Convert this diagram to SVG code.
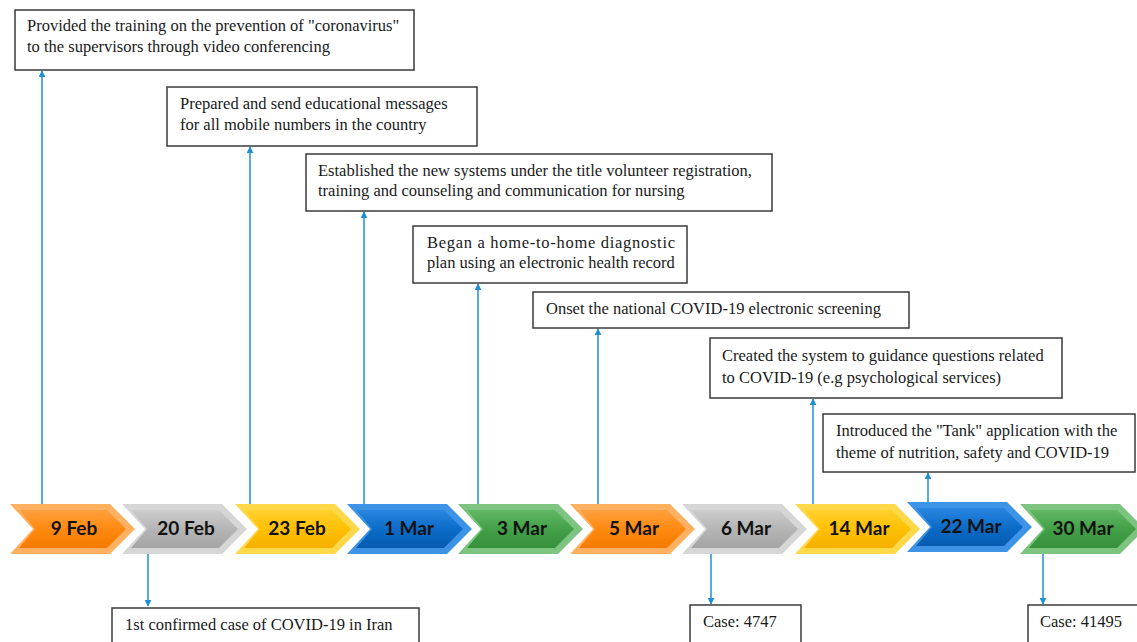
<svg xmlns="http://www.w3.org/2000/svg" width="1137" height="642" viewBox="0 0 1137 642">
<style>
.box{fill:#fff;stroke:#3a3a3a;stroke-width:1.5}
.t{font-family:"Liberation Serif","Times New Roman",serif;font-size:16.5px;fill:#1a1a1a}
.lbl{font-family:Lato,"Open Sans",sans-serif;font-weight:bold;font-size:19px;fill:#111;text-anchor:middle}
.con{stroke:#1f8fd6;stroke-width:1.5;fill:none}
</style>
<defs>
<marker id="ah" viewBox="0 0 10 10" refX="9" refY="5" markerWidth="7" markerHeight="7" orient="auto-start-reverse" markerUnits="userSpaceOnUse">
<path d="M0,0 L10,5 L0,10 z" fill="#1f8fd6"/>
</marker>
<linearGradient id="gO" x1="0" y1="0" x2="0" y2="1"><stop offset="0" stop-color="#ffa040"/><stop offset="0.5" stop-color="#ff8a10"/><stop offset="1" stop-color="#f57a00"/></linearGradient>
<linearGradient id="gG" x1="0" y1="0" x2="0" y2="1"><stop offset="0" stop-color="#cccccc"/><stop offset="0.5" stop-color="#b5b5b5"/><stop offset="1" stop-color="#a5a5a5"/></linearGradient>
<linearGradient id="gY" x1="0" y1="0" x2="0" y2="1"><stop offset="0" stop-color="#ffd030"/><stop offset="0.5" stop-color="#ffc000"/><stop offset="1" stop-color="#f5b000"/></linearGradient>
<linearGradient id="gB" x1="0" y1="0" x2="0" y2="1"><stop offset="0" stop-color="#2a86e0"/><stop offset="0.5" stop-color="#0b6cc9"/><stop offset="1" stop-color="#075cb0"/></linearGradient>
<linearGradient id="gN" x1="0" y1="0" x2="0" y2="1"><stop offset="0" stop-color="#62b865"/><stop offset="0.5" stop-color="#43a047"/><stop offset="1" stop-color="#36913a"/></linearGradient>
<path id="chev" d="M0,0 L100,0 L125,25 L100,50 L0,50 L23,25 z"/>
<path id="chevIn" d="M9,6 L97,6 L116,25 L97,44 L9,44 L25,25 z"/>
</defs>

<g id="connectors">
<line class="con" x1="42" y1="504" x2="42" y2="71" marker-end="url(#ah)"/>
<line class="con" x1="250" y1="504" x2="250" y2="147" marker-end="url(#ah)"/>
<line class="con" x1="364" y1="504" x2="364" y2="212" marker-end="url(#ah)"/>
<line class="con" x1="478" y1="504" x2="478" y2="284" marker-end="url(#ah)"/>
<line class="con" x1="598" y1="504" x2="598" y2="329" marker-end="url(#ah)"/>
<line class="con" x1="813" y1="504" x2="813" y2="399" marker-end="url(#ah)"/>
<line class="con" x1="928" y1="502" x2="928" y2="473" marker-end="url(#ah)"/>
<line class="con" x1="148" y1="554" x2="148" y2="606" marker-end="url(#ah)"/>
<line class="con" x1="711" y1="554" x2="711" y2="604" marker-end="url(#ah)"/>
<line class="con" x1="1043" y1="554" x2="1043" y2="604" marker-end="url(#ah)"/>
</g>

<g id="n-9feb" transform="translate(10,504)">
<use href="#chev" fill="#ffb060"/><use href="#chevIn" fill="url(#gO)"/>
<text class="lbl" x="64" y="31">9 Feb</text></g>
<g id="n-20feb" transform="translate(122,504)">
<use href="#chev" fill="#d6d6d6"/><use href="#chevIn" fill="url(#gG)"/>
<text class="lbl" x="64" y="31">20 Feb</text></g>
<g id="n-23feb" transform="translate(235,504)">
<use href="#chev" fill="#ffd84a"/><use href="#chevIn" fill="url(#gY)"/>
<text class="lbl" x="62" y="31">23 Feb</text></g>
<g id="n-1mar" transform="translate(347,504)">
<use href="#chev" fill="#3d94e6"/><use href="#chevIn" fill="url(#gB)"/>
<text class="lbl" x="62" y="31">1 Mar</text></g>
<g id="n-3mar" transform="translate(458,504)">
<use href="#chev" fill="#7cc47f"/><use href="#chevIn" fill="url(#gN)"/>
<text class="lbl" x="64" y="31">3 Mar</text></g>
<g id="n-5mar" transform="translate(570,504)">
<use href="#chev" fill="#ffb060"/><use href="#chevIn" fill="url(#gO)"/>
<text class="lbl" x="64" y="31">5 Mar</text></g>
<g id="n-6mar" transform="translate(682,504)">
<use href="#chev" fill="#d6d6d6"/><use href="#chevIn" fill="url(#gG)"/>
<text class="lbl" x="64" y="31">6 Mar</text></g>
<g id="n-14mar" transform="translate(795,504)">
<use href="#chev" fill="#ffd84a"/><use href="#chevIn" fill="url(#gY)"/>
<text class="lbl" x="64" y="31">14 Mar</text></g>
<g id="n-22mar" transform="translate(907,502)">
<use href="#chev" fill="#3d94e6"/><use href="#chevIn" fill="url(#gB)"/>
<text class="lbl" x="64" y="31">22 Mar</text></g>
<g id="n-30mar" transform="translate(1020,504)">
<use href="#chev" fill="#7cc47f"/><use href="#chevIn" fill="url(#gN)"/>
<text class="lbl" x="63" y="31">30 Mar</text></g>

<g id="b1"><rect class="box" x="15" y="10" width="399" height="60"/>
<text class="t" x="27" y="31">Provided the training on the prevention of "coronavirus"</text>
<text class="t" x="27" y="52">to the supervisors through video conferencing</text></g>
<g id="b2"><rect class="box" x="167" y="87" width="310" height="59"/>
<text class="t" x="180" y="109">Prepared and send educational messages</text>
<text class="t" x="180" y="130">for all mobile numbers in the country</text></g>
<g id="b3"><rect class="box" x="306" y="154" width="466" height="57"/>
<text class="t" x="318" y="176">Established the new systems under the title volunteer registration,</text>
<text class="t" x="318" y="196">training and counseling and communication for nursing</text></g>
<g id="b4"><rect class="box" x="413" y="226" width="274" height="57"/>
<text class="t" x="427" y="248" textLength="248" lengthAdjust="spacing">Began a home-to-home diagnostic</text>
<text class="t" x="427" y="268">plan using an electronic health record</text></g>
<g id="b5"><rect class="box" x="533" y="292" width="376" height="36"/>
<text class="t" x="546" y="314">Onset the national COVID-19 electronic screening</text></g>
<g id="b6"><rect class="box" x="710" y="338" width="352" height="60"/>
<text class="t" x="722" y="361">Created the system to guidance questions related</text>
<text class="t" x="722" y="383">to COVID-19 (e.g psychological services)</text></g>
<g id="b7"><rect class="box" x="823" y="414" width="312" height="58"/>
<text class="t" x="836" y="436">Introduced the "Tank" application with the</text>
<text class="t" x="836" y="458">theme of nutrition, safety and COVID-19</text></g>
<g id="b8"><rect class="box" x="112" y="608" width="307" height="40"/>
<text class="t" x="125" y="630">1st confirmed case of COVID-19 in Iran</text></g>
<g id="b9"><rect class="box" x="690" y="605" width="111" height="42"/>
<text class="t" x="703" y="627">Case: 4747</text></g>
<g id="b10"><rect class="box" x="1028" y="605" width="115" height="42"/>
<text class="t" x="1040" y="627">Case: 41495</text></g>
</svg>
